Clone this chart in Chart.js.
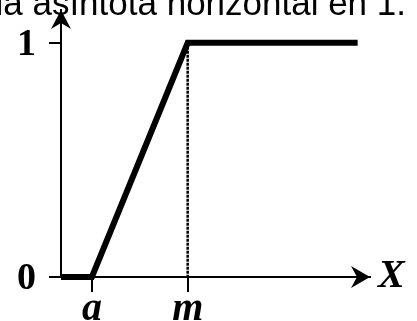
<!DOCTYPE html>
<html>
<head>
<meta charset="utf-8">
<script src="https://cdn.jsdelivr.net/npm/chart.js@4.4.0/dist/chart.umd.min.js"></script>
<style>
  html, body { margin: 0; padding: 0; background: #fff; overflow: hidden; }
  #wrap { width: 417px; height: 321px; }
</style>
</head>
<body>
<div id="wrap"><canvas id="c" width="417" height="321"></canvas></div>
<script>
// ramp function: 0 up to a, straight rise to 1 at m, flat after that
const xTickValues = [1, 4.1];
const xTickLabels = ['a', 'm'];
const yTickValues = [0, 1];
const yTickLabels = ['0', '1'];
const curveX = [0, 1, 4.1, 9.6];
const curveY = [0, 0, 1, 1];
const markerX = [4.1, 4.1];
const markerY = [1, 0];
const captionText = 'la asíntota horizontal en 1.';
const axisLabelX = 'X';

function toPoints(xs, ys) {
    return xs.map((x, i) => ({ x: x, y: ys[i] }));
}

// arrows on both axes, the X name and the cut caption line above
const axisArrows = {
    id: 'axisArrows',
    afterDraw(chart) {
        const ctx = chart.ctx;
        const xs = chart.scales.x, ys = chart.scales.y;
        const x0 = xs.getPixelForValue(0);
        const y0 = ys.getPixelForValue(0);
        const xEnd = xs.right, yEnd = ys.top;
        ctx.save();
        ctx.fillStyle = '#000';

        ctx.beginPath();
        ctx.moveTo(x0, yEnd);
        ctx.lineTo(x0 - 10, yEnd + 19);
        ctx.lineTo(x0, yEnd + 13);
        ctx.lineTo(x0 + 10, yEnd + 19);
        ctx.closePath();
        ctx.fill();

        ctx.beginPath();
        ctx.moveTo(xEnd, y0);
        ctx.lineTo(xEnd - 19, y0 - 11);
        ctx.lineTo(xEnd - 13, y0);
        ctx.lineTo(xEnd - 19, y0 + 11);
        ctx.closePath();
        ctx.fill();

        ctx.font = 'italic bold 40px "Liberation Serif"';
        ctx.textAlign = 'left';
        ctx.textBaseline = 'middle';
        ctx.fillText(axisLabelX, xEnd + 8, y0);

        ctx.font = '35px "Liberation Sans"';
        ctx.textAlign = 'right';
        ctx.textBaseline = 'alphabetic';
        ctx.fillText(captionText, 406, 15);
        ctx.restore();
    }
};

new Chart(document.getElementById('c').getContext('2d'), {
    type: 'scatter',
    data: {
        datasets: [
            {
                data: toPoints(curveX, curveY),
                showLine: true,
                borderColor: '#000',
                borderWidth: 6,
                pointRadius: 0,
                borderJoinStyle: 'miter',
                clip: false
            },
            {
                data: toPoints(markerX, markerY),
                showLine: true,
                borderColor: '#000',
                borderWidth: 2.5,
                borderDash: [3, 1],
                pointRadius: 0,
                clip: false
            }
        ]
    },
    options: {
        responsive: false,
        animation: false,
        layout: { padding: { top: 10, right: 47, left: 0, bottom: 0 } },
        plugins: {
            legend: { display: false },
            tooltip: { enabled: false }
        },
        scales: {
            x: {
                type: 'linear',
                min: 0,
                max: 10,
                afterFit: s => { s.height = 44; s.paddingLeft = 0; s.paddingRight = 0; },
                afterBuildTicks: s => { s.ticks = xTickValues.map(v => ({ value: v })); },
                border: { display: true, color: '#000', width: 2 },
                grid: { drawOnChartArea: false, drawTicks: true, tickLength: 15, color: '#000', lineWidth: 2 },
                ticks: {
                    autoSkip: false,
                    maxRotation: 0,
                    padding: -6,
                    color: '#000',
                    font: { family: 'Liberation Serif', size: 40, weight: 'bold', style: 'italic' },
                    callback: v => xTickLabels[xTickValues.indexOf(v)]
                }
            },
            y: {
                type: 'linear',
                min: 0,
                max: 1.14,
                afterFit: s => { s.width = 61; s.paddingTop = 0; s.paddingBottom = 0; },
                afterBuildTicks: s => { s.ticks = yTickValues.map(v => ({ value: v })); },
                border: { display: true, color: '#000', width: 2 },
                grid: { drawOnChartArea: false, drawTicks: true, tickLength: 12, color: '#000', lineWidth: 2 },
                ticks: {
                    autoSkip: false,
                    padding: 13,
                    labelOffset: 2,
                    color: '#000',
                    font: { family: 'Liberation Serif', size: 38, weight: 'bold' },
                    callback: v => yTickLabels[yTickValues.indexOf(v)]
                }
            }
        }
    },
    plugins: [axisArrows]
});
</script>
</body>
</html>
